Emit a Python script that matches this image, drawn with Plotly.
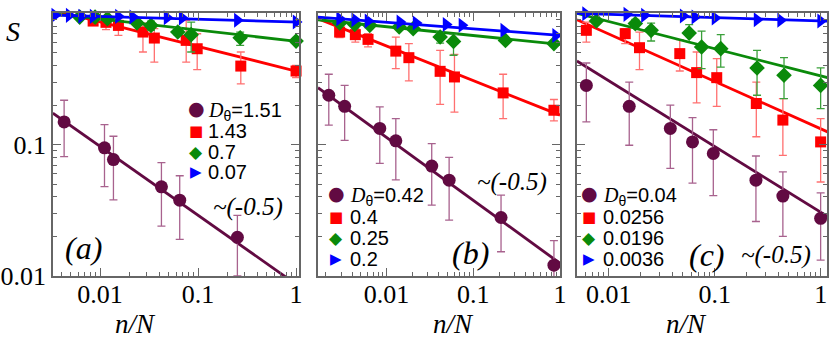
import plotly.graph_objects as go

# ---- panel (a) ----
a_circ_x = [0.0043, 0.0111, 0.0137, 0.0423, 0.065, 0.252]
a_circ_y = [0.149, 0.0946, 0.0771, 0.0478, 0.0378, 0.0197]
a_circ_hi = [0.218, 0.142, 0.116, 0.073, 0.058, 0.029]
a_circ_lo = [0.081, 0.048, 0.038, 0.024, 0.019, 0.010]
a_circ_fit_x = [0.0033, 1.07]
a_circ_fit_y = [0.174, 0.00835]

a_sq_x = [0.0085, 0.0115, 0.0154, 0.0274, 0.0358, 0.0757, 0.098, 0.273, 1.0]
a_sq_y = [0.874, 0.855, 0.81, 0.721, 0.649, 0.623, 0.538, 0.397, 0.364]
a_sq_hi = [0.911, 0.937, 0.885, 0.844, 0.765, 0.885, 0.70, 0.508, 0.402]
a_sq_lo = [0.81, 0.751, 0.68, 0.508, 0.426, 0.426, 0.373, 0.291, 0.324]
a_sq_fit_x = [0.0033, 1.07]
a_sq_fit_y = [1.06, 0.359]

a_dia_x = [0.0062, 0.0089, 0.0119, 0.0238, 0.0331, 0.0621, 0.0851, 0.269, 1.0]
a_dia_y = [0.937, 0.937, 0.912, 0.844, 0.81, 0.721, 0.689, 0.653, 0.615]
a_dia_hi = [0.96, 0.96, 0.94, 0.875, 0.874, 0.78, 0.859, 0.721, 0.64]
a_dia_lo = [0.915, 0.91, 0.885, 0.815, 0.743, 0.68, 0.508, 0.571, 0.59]
a_dia_fit_x = [0.0033, 1.07]
a_dia_fit_y = [0.995, 0.61]

a_tri_x = [0.00345, 0.00484, 0.00649, 0.0085, 0.0154, 0.0216, 0.0483, 0.0689, 0.252, 1.0]
a_tri_y = [0.966, 0.966, 0.953, 0.949, 0.949, 0.937, 0.927, 0.921, 0.885, 0.859]
a_tri_fit_x = [0.0033, 1.07]
a_tri_fit_y = [0.97, 0.857]

a_names = ["=1.51", "1.43", "0.7", "0.07"]

# ---- panel (b) ----
b_circ_x = [0.00216, 0.00329, 0.00836, 0.0128, 0.0332, 0.0527, 0.209, 0.851]
b_circ_y = [0.238, 0.196, 0.133, 0.107, 0.0687, 0.0537, 0.0279, 0.0121]
b_circ_hi = [0.344, 0.283, 0.194, 0.158, 0.102, 0.080, 0.0413, 0.0186]
b_circ_lo = [0.141, 0.108, 0.072, 0.054, 0.0346, 0.0266, 0.0153, 0.0075]
b_circ_fit_x = [0.00162, 1.0]
b_circ_fit_y = [0.272, 0.0125]

b_sq_x = [0.00288, 0.00437, 0.00612, 0.0128, 0.0181, 0.0415, 0.0607, 0.221, 0.851]
b_sq_y = [0.721, 0.689, 0.634, 0.516, 0.46, 0.362, 0.328, 0.248, 0.183]
b_sq_hi = [0.778, 0.765, 0.70, 0.66, 0.588, 0.523, 0.488, 0.344, 0.221]
b_sq_lo = [0.653, 0.605, 0.555, 0.38, 0.306, 0.203, 0.177, 0.158, 0.152]
b_sq_fit_x = [0.00162, 1.0]
b_sq_fit_y = [0.912, 0.168]

b_dia_x = [0.00288, 0.0043, 0.00641, 0.014, 0.0203, 0.0415, 0.0592, 0.235, 0.851]
b_dia_y = [0.844, 0.824, 0.811, 0.787, 0.765, 0.661, 0.612, 0.623, 0.589]
b_dia_hi = [0.87, 0.85, 0.835, 0.81, 0.80, 0.72, 0.692, 0.645, 0.61]
b_dia_lo = [0.82, 0.80, 0.79, 0.765, 0.735, 0.594, 0.48, 0.60, 0.57]
b_dia_fit_x = [0.00162, 1.0]
b_dia_fit_y = [0.895, 0.581]

b_tri_x = [0.00288, 0.0043, 0.00612, 0.01426, 0.0219, 0.0486, 0.074, 0.2245, 0.89]
b_tri_y = [0.912, 0.895, 0.874, 0.859, 0.844, 0.824, 0.811, 0.743, 0.68]
b_tri_fit_x = [0.00162, 1.0]
b_tri_fit_y = [0.937, 0.68]

b_names = ["=0.42", "0.4", "0.25", "0.2"]

# ---- panel (c) ----
c_circ_x = [0.00614, 0.0156, 0.0381, 0.0617, 0.097, 0.245, 0.44, 1.0]
c_circ_y = [0.283, 0.196, 0.133, 0.105, 0.0857, 0.0537, 0.0406, 0.0275]
c_circ_hi = [0.419, 0.30, 0.20, 0.161, 0.13, 0.082, 0.062, 0.043]
c_circ_lo = [0.149, 0.099, 0.066, 0.051, 0.041, 0.026, 0.020, 0.0132]
c_circ_fit_x = [0.005, 1.166]
c_circ_fit_y = [0.434, 0.0283]

c_sq_x = [0.00614, 0.0143, 0.0195, 0.0468, 0.0675, 0.1045, 0.247, 0.44, 1.0]
c_sq_y = [0.743, 0.701, 0.548, 0.494, 0.354, 0.324, 0.206, 0.154, 0.105]
c_sq_hi = [0.859, 0.765, 0.72, 0.631, 0.508, 0.452, 0.30, 0.224, 0.158]
c_sq_lo = [0.605, 0.588, 0.373, 0.364, 0.208, 0.196, 0.115, 0.083, 0.052]
c_sq_fit_x = [0.005, 1.166]
c_sq_fit_y = [0.895, 0.125]

c_dia_x = [0.00764, 0.0178, 0.0251, 0.0574, 0.0752, 0.114, 0.251, 0.451, 1.0]
c_dia_y = [0.874, 0.836, 0.743, 0.708, 0.554, 0.539, 0.384, 0.338, 0.283]
c_dia_hi = [0.91, 0.90, 0.844, 0.82, 0.734, 0.689, 0.523, 0.46, 0.384]
c_dia_lo = [0.84, 0.78, 0.616, 0.68, 0.38, 0.39, 0.238, 0.224, 0.188]
c_dia_fit_x = [0.005, 1.166]
c_dia_fit_y = [1.0, 0.324]

c_tri_x = [0.00604, 0.0148, 0.0217, 0.0504, 0.065, 0.1007, 0.251, 0.419, 1.0]
c_tri_y = [0.995, 0.983, 0.966, 0.954, 0.937, 0.921, 0.895, 0.885, 0.874]
c_tri_fit_x = [0.005, 1.166]
c_tri_fit_y = [1.0, 0.874]

c_names = ["=0.04", "0.0256", "0.0196", "0.0036"]

x_ticks = [0.01, 0.1, 1]
x_ticktext = ["0.01", "0.1", "1"]
y_ticks = [0.01, 0.1, 1]
y_ticktext = ["0.01", "0.1", "1"]
minor_vals = [m * 10.0 ** e for e in range(-4, 1) for m in range(2, 10)]

PURPLE, RED, GREEN, BLUE = "#620a42", "#ff0000", "#0a8a0a", "#0000ff"
ERR = {PURPLE: "#a8628e", RED: "#ff7070", GREEN: "#3aa03a", BLUE: "#5050ff"}
SYMB = {PURPLE: "circle", RED: "square", GREEN: "diamond", BLUE: "triangle-right"}
GLYPH = {PURPLE: "●", RED: "■", GREEN: "◆", BLUE: "▶"}
SIZE = {PURPLE: 13, RED: 11, GREEN: 12, BLUE: 13}
SERIF = "Liberation Serif"
SANS = "Liberation Sans"
FRAME = "#666"

W, H = 830, 344
fig = go.Figure()


def add_series(n, color, x, y, fx, fy, hi=None, lo=None):
    xa, ya = ("x", "y") if n == 1 else (f"x{n}", f"y{n}")
    fig.add_trace(go.Scatter(x=fx, y=fy, mode="lines", xaxis=xa, yaxis=ya,
                             line=dict(color=color, width=2.8),
                             showlegend=False, hoverinfo="skip"))
    err = None
    if hi is not None:
        err = dict(type="data", symmetric=False,
                   array=[h - v for h, v in zip(hi, y)],
                   arrayminus=[v - l for l, v in zip(lo, y)],
                   color=ERR[color], thickness=1.3, width=4)
    fig.add_trace(go.Scatter(x=x, y=y, mode="markers", xaxis=xa, yaxis=ya,
                             showlegend=False, error_y=err, cliponaxis=False,
                             marker=dict(symbol=SYMB[color], size=SIZE[color], color=color)))


add_series(1, PURPLE, a_circ_x, a_circ_y, a_circ_fit_x, a_circ_fit_y, a_circ_hi, a_circ_lo)
add_series(1, RED, a_sq_x, a_sq_y, a_sq_fit_x, a_sq_fit_y, a_sq_hi, a_sq_lo)
add_series(1, GREEN, a_dia_x, a_dia_y, a_dia_fit_x, a_dia_fit_y, a_dia_hi, a_dia_lo)
add_series(1, BLUE, a_tri_x, a_tri_y, a_tri_fit_x, a_tri_fit_y)

add_series(2, PURPLE, b_circ_x, b_circ_y, b_circ_fit_x, b_circ_fit_y, b_circ_hi, b_circ_lo)
add_series(2, RED, b_sq_x, b_sq_y, b_sq_fit_x, b_sq_fit_y, b_sq_hi, b_sq_lo)
add_series(2, GREEN, b_dia_x, b_dia_y, b_dia_fit_x, b_dia_fit_y, b_dia_hi, b_dia_lo)
add_series(2, BLUE, b_tri_x, b_tri_y, b_tri_fit_x, b_tri_fit_y)

add_series(3, PURPLE, c_circ_x, c_circ_y, c_circ_fit_x, c_circ_fit_y, c_circ_hi, c_circ_lo)
add_series(3, RED, c_sq_x, c_sq_y, c_sq_fit_x, c_sq_fit_y, c_sq_hi, c_sq_lo)
add_series(3, GREEN, c_dia_x, c_dia_y, c_dia_fit_x, c_dia_fit_y, c_dia_hi, c_dia_lo)
add_series(3, BLUE, c_tri_x, c_tri_y, c_tri_fit_x, c_tri_fit_y)

axis_common = dict(type="log", showline=True, linecolor=FRAME, linewidth=1.7, mirror="allticks",
                   ticks="inside", ticklen=8, tickwidth=1.2, tickcolor=FRAME, showgrid=False,
                   zeroline=False, tickmode="array", automargin=False,
                   tickfont=dict(family=SERIF, size=26, color="black"),
                   minor=dict(tickmode="array", tickvals=minor_vals, ticks="inside", ticklen=4,
                              tickcolor=FRAME, tickwidth=1, showgrid=False))

x_domains = [(53 / W, 299 / W), (318 / W, 560 / W), (577 / W, 827 / W)]
x_ranges = [(-2.48, 0.03), (-2.79, 0.0), (-2.30, 0.06)]
y_dom = (1 - 276 / H, 1 - 13 / H)

layout = {}
for i in range(3):
    sx = "xaxis" if i == 0 else f"xaxis{i + 1}"
    sy = "yaxis" if i == 0 else f"yaxis{i + 1}"
    anc = "y" if i == 0 else f"y{i + 1}"
    ancx = "x" if i == 0 else f"x{i + 1}"
    layout[sx] = dict(axis_common, domain=x_domains[i], range=x_ranges[i], anchor=anc,
                      tickvals=x_ticks, ticktext=x_ticktext, ticklabelstandoff=-6)
    layout[sy] = dict(axis_common, domain=y_dom, range=(-2, 0.003), anchor=ancx,
                      tickvals=y_ticks, ticktext=y_ticktext, showticklabels=(i == 0))

fig.update_layout(
    width=W, height=H, margin=dict(l=0, r=0, t=0, b=0, autoexpand=False),
    paper_bgcolor="white", plot_bgcolor="white", showlegend=False,
    **layout,
)


def note(text, px, py, size, family=SERIF, color="black", xanchor="center"):
    fig.add_annotation(text=text, x=px / W, y=1 - py / H, xref="paper", yref="paper",
                       xanchor=xanchor, yanchor="middle", showarrow=False,
                       font=dict(family=family, size=size, color=color))


# legend keys and labels, one block per panel
def key_block(names, mx, tx, rows):
    colors = [PURPLE, RED, GREEN, BLUE]
    gsize = {PURPLE: 19, RED: 15, GREEN: 17, BLUE: 15}
    for k, (name, color, ry) in enumerate(zip(names, colors, rows)):
        note(GLYPH[color], mx, ry, gsize[color], family="DejaVu Sans", color=color)
        if k == 0:
            label = (f'<span style="font-family:{SERIF}"><i>D</i></span>'
                     f'<sub>θ</sub>{name}')
            note(label, tx, ry + 3, 20, family=SANS, xanchor="left")
        else:
            note(name, tx, ry, 20, family=SANS, xanchor="left")


key_block(a_names, 196, 206, [108, 131, 152, 172])
key_block(b_names, 336, 348, [193, 217, 238, 259])
key_block(c_names, 589, 601, [193, 217, 238, 259])

note("<i>S</i>", 13, 32, 28)
for cx in (135, 453, 686):
    note("<i>n/N</i>", cx, 324, 27)
note("<i>(a)</i>", 83, 248, 32)
note("<i>(b)</i>", 470, 253, 32)
note("<i>(c)</i>", 707, 255, 32)
note("<i>~(-0.5)</i>", 248, 207, 25)
note("<i>~(-0.5)</i>", 512, 182, 25)
note("<i>~(-0.5)</i>", 776, 255, 25)

fig.write_html("out.html", config={"displayModeBar": False},
               post_script="document.body.style.margin='0px';")
